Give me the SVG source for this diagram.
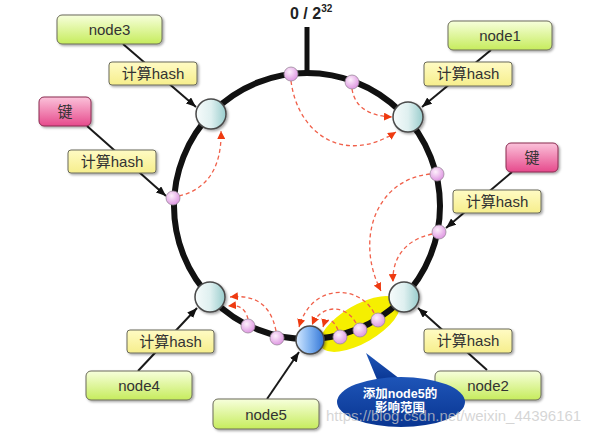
<svg xmlns="http://www.w3.org/2000/svg" width="604" height="434" viewBox="0 0 604 434">
<defs>
<linearGradient id="gGreen" x1="0" y1="0" x2="0" y2="1"><stop offset="0" stop-color="#f7ffdc"/><stop offset="1" stop-color="#c6ec5c"/></linearGradient>
<linearGradient id="gYellow" x1="0" y1="0" x2="0" y2="1"><stop offset="0" stop-color="#fffbc4"/><stop offset="1" stop-color="#f6ee8c"/></linearGradient>
<linearGradient id="gPink" x1="0" y1="0" x2="0" y2="1"><stop offset="0" stop-color="#fbc2da"/><stop offset="1" stop-color="#e64a8c"/></linearGradient>
<linearGradient id="gNode" x1="0" y1="0" x2="1" y2="0"><stop offset="0" stop-color="#f6fbfb"/><stop offset="0.5" stop-color="#dff0f0"/><stop offset="1" stop-color="#98cccc"/></linearGradient>
<linearGradient id="gBlue" x1="0" y1="0" x2="1" y2="0"><stop offset="0" stop-color="#d4e8ff"/><stop offset="0.5" stop-color="#7fb2f0"/><stop offset="1" stop-color="#3475d6"/></linearGradient>
<radialGradient id="gDot" cx="0.4" cy="0.35" r="0.7"><stop offset="0" stop-color="#fdf0fb"/><stop offset="1" stop-color="#dc90e0"/></radialGradient>
<linearGradient id="gCall" x1="0" y1="0" x2="0" y2="1"><stop offset="0" stop-color="#1e55b8"/><stop offset="1" stop-color="#093591"/></linearGradient>
<filter id="sh" x="-20%" y="-20%" width="140%" height="150%"><feDropShadow dx="1.5" dy="1.5" stdDeviation="1" flood-color="#000" flood-opacity="0.35"/></filter>
<marker id="aBlk" markerUnits="userSpaceOnUse" markerWidth="10" markerHeight="8" refX="10" refY="4" orient="auto"><path d="M0,0 L10,4 L0,8 z" fill="#111"/></marker>
<marker id="aRed" markerUnits="userSpaceOnUse" markerWidth="8" markerHeight="8" refX="8" refY="4" orient="auto"><path d="M0,0 L8,4 L0,8 z" fill="#ee3a10"/></marker>
<style>
.box{stroke:#6b6b5a;stroke-width:1;filter:url(#sh)}
.green{fill:url(#gGreen)}
.yel{fill:url(#gYellow)}
.pink{fill:url(#gPink);stroke:#8a2a50}
.t{font-family:"Liberation Sans","Noto Sans CJK SC",sans-serif;font-size:15px;fill:#333;text-anchor:middle}
.blk{fill:none;stroke:#1a1a1a;stroke-width:2;marker-end:url(#aBlk)}
.red{fill:none;stroke:#f0604a;stroke-width:1.3;stroke-dasharray:4 3;marker-end:url(#aRed)}
.nd{fill:url(#gNode);stroke:#4a4a4a;stroke-width:1.5;filter:url(#sh)}
.dot{fill:url(#gDot);stroke:#9a8a9a;stroke-width:0.8}
</style>
</defs>
<rect width="604" height="434" fill="#fff"/>

<!-- highlight -->
<ellipse cx="360" cy="324" rx="45" ry="19" transform="rotate(-30 360 324)" fill="#f5ef00"/>

<!-- ring -->
<g id="ring">
<circle cx="307" cy="206" r="133" fill="none" stroke="#111" stroke-width="6"/>
<line x1="307" y1="27" x2="307" y2="74" stroke="#111" stroke-width="5"/>
<text x="290" y="19" font-family="Liberation Sans, sans-serif" font-size="16" font-weight="bold" fill="#222">0 / 2<tspan font-size="10" dy="-7">32</tspan></text>
</g>

<!-- connectors -->
<g id="connectors">
<path class="blk" d="M123,44 L196,107"/>
<path class="blk" d="M87,126 L166,196"/>
<path class="blk" d="M491,50 L422,107"/>
<path class="blk" d="M512,172 L446,228"/>
<path class="blk" d="M138,371 L197,308"/>
<path class="blk" d="M487,370 L418,308"/>
<path class="blk" d="M267,399 L299,352"/>
<path class="red" d="M179,196 C205,190 222,170 221,131"/>
<path class="red" d="M291,81 C298,135 345,165 396,132"/>
<path class="red" d="M352,89 C355,108 370,116 392,117"/>
<path class="red" d="M430,174 C375,180 355,240 381,291"/>
<path class="red" d="M432,234 C405,240 392,258 393,282"/>
<path class="red" d="M374,313 C360,285 312,282 299,327"/>
<path class="red" d="M356,323 C346,305 322,303 312,325"/>
<path class="red" d="M338,330 C333,318 326,317 323,327"/>
<path class="red" d="M248,319 C245,307 238,305 228,306"/>
<path class="red" d="M276,331 C270,300 250,295 230,297"/>
</g>

<!-- ring points -->
<g id="keys-on-ring">
<circle class="dot" cx="291" cy="74" r="7"/>
<circle class="dot" cx="352" cy="82" r="7"/>
<circle class="dot" cx="173" cy="198" r="7"/>
<circle class="dot" cx="437" cy="174" r="7"/>
<circle class="dot" cx="439" cy="232" r="7"/>
<circle class="dot" cx="378" cy="320" r="7"/>
<circle class="dot" cx="360" cy="330" r="7"/>
<circle class="dot" cx="340" cy="337" r="7"/>
<circle class="dot" cx="277" cy="338" r="7"/>
<circle class="dot" cx="248" cy="326" r="7"/>
</g>

<g id="node3">
<circle class="nd" cx="211" cy="114" r="15"/>
<rect class="box green" x="57" y="15" width="105" height="29" rx="5"/>
<text class="t" x="109.5" y="35">node3</text>
<rect class="box yel" x="109" y="62" width="88" height="23" rx="3"/>
<text class="t" x="153" y="79">计算hash</text>
</g>
<g id="key-left">
<rect class="box pink" x="39" y="97" width="52" height="29" rx="5"/>
<text class="t" x="65" y="117">键</text>
<rect class="box yel" x="68" y="150" width="88" height="23" rx="3"/>
<text class="t" x="112" y="167">计算hash</text>
</g>
<g id="node1">
<circle class="nd" cx="408" cy="117" r="15"/>
<rect class="box green" x="448" y="21" width="104" height="29" rx="5"/>
<text class="t" x="500" y="41">node1</text>
<rect class="box yel" x="424" y="62" width="88" height="24" rx="3"/>
<text class="t" x="468" y="79">计算hash</text>
</g>
<g id="key-right">
<rect class="box pink" x="506" y="143" width="52" height="29" rx="5"/>
<text class="t" x="532" y="163">键</text>
<rect class="box yel" x="453" y="190" width="88" height="23" rx="3"/>
<text class="t" x="497" y="207">计算hash</text>
</g>
<g id="node4">
<circle class="nd" cx="210" cy="297" r="15"/>
<rect class="box yel" x="127" y="330" width="87" height="23" rx="3"/>
<text class="t" x="170.5" y="347">计算hash</text>
<rect class="box green" x="86" y="371" width="106" height="29" rx="5"/>
<text class="t" x="139" y="391">node4</text>
</g>
<g id="node2">
<circle class="nd" cx="404" cy="297" r="15"/>
<rect class="box yel" x="424" y="329" width="88" height="24" rx="3"/>
<text class="t" x="468" y="346">计算hash</text>
<rect class="box green" x="435" y="371" width="106" height="29" rx="5"/>
<text class="t" x="488" y="391">node2</text>
</g>
<g id="node5">
<circle cx="310" cy="340" r="14" fill="url(#gBlue)" stroke="#4a4a4a" stroke-width="1.5" filter="url(#sh)"/>
<rect class="box green" x="213" y="399" width="106" height="30" rx="5"/>
<text class="t" x="266" y="420">node5</text>
</g>
<g id="callout">
<path d="M366,353 L378,382 L400,379 Z" fill="url(#gCall)"/>
<ellipse cx="401" cy="402" rx="64" ry="25" fill="url(#gCall)"/>
<text x="400" y="398" font-family="Liberation Sans,'Noto Sans CJK SC',sans-serif" font-size="12.5" font-weight="bold" fill="#fff" text-anchor="middle">添加node5的</text>
<text x="400" y="412" font-family="Liberation Sans,'Noto Sans CJK SC',sans-serif" font-size="12.5" font-weight="bold" fill="#fff" text-anchor="middle">影响范围</text>
</g>
<text x="326" y="421" font-family="Liberation Sans, sans-serif" font-size="15" fill="#c8c8c8" fill-opacity="0.75">https://blog.csdn.net/weixin_44396161</text>
</svg>
